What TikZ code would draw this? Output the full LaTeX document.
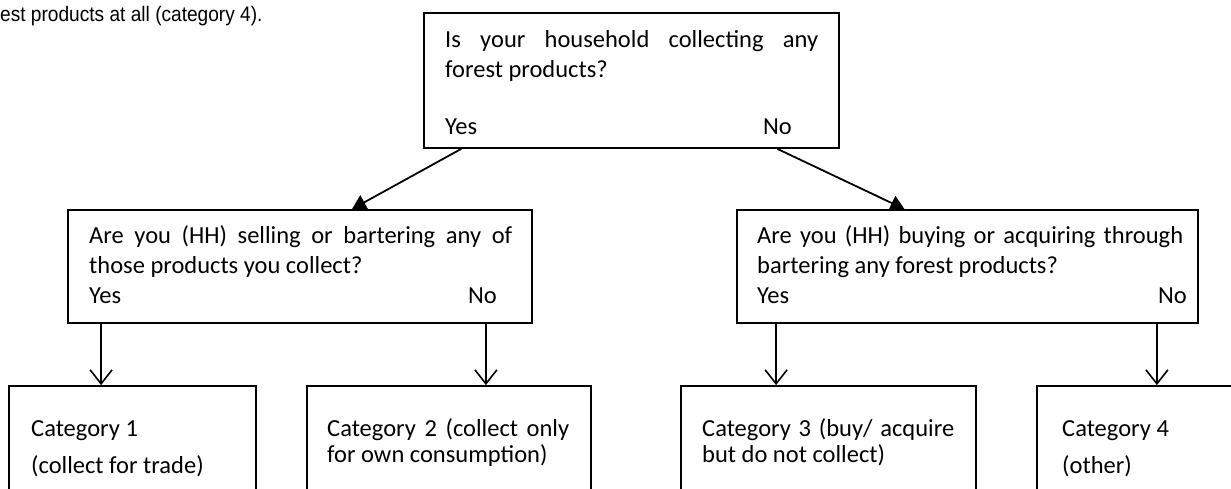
\documentclass[tikz,border=0pt]{standalone}
\usepackage{fontspec}
\setmainfont{Carlito}
\newfontfamily\arialfont[FakeStretch=0.91]{Liberation Sans}
\usetikzlibrary{arrows.meta}
\tikzset{
  box/.style={draw, line width=1.8pt, rectangle, inner sep=0pt},
  txt/.style={anchor=base west, inner sep=0pt, font=\fontsize{24.5}{30}\selectfont},
  txtr/.style={txt, anchor=base east},
  diag/.style={line width=1.8pt, -{Triangle[length=14pt,width=16pt]}},
  down/.style={line width=1.6pt, -{Straight Barb[length=14pt,width=22pt,line width=1.6pt]}},
}
\begin{document}
\begin{tikzpicture}[x=1pt,y=-1pt]
\useasboundingbox (0,0) rectangle (1231,488);
\clip (0,0) rectangle (1231,488);
% note text
\node[anchor=base west, inner sep=0pt, font=\arialfont\fontsize{21}{25}\selectfont] (note) at (0,21) {est products at all (category 4).};
% boxes
\node[box, minimum width=415pt, minimum height=135pt] (q1) at (631.5,80.5) {};
\node[box, minimum width=464pt, minimum height=113pt] (q2) at (300,266.5) {};
\node[box, minimum width=461pt, minimum height=113pt] (q3) at (967.5,266.5) {};
\node[box, minimum width=247pt, minimum height=134pt] (c1) at (132.5,453) {};
\node[box, minimum width=284pt, minimum height=134pt] (c2) at (449,453) {};
\node[box, minimum width=295pt, minimum height=134pt] (c3) at (828.5,453) {};
\node[box, minimum width=213pt, minimum height=134pt] (c4) at (1143.5,453) {};
% top box text
\node[txt] (q1a) at (445,47) {\makebox[373pt][s]{Is your household collecting any}};
\node[txt] (q1b) at (445,77) {forest products?};
\node[txt] (q1y) at (445,134) {Yes};
\node[txtr] (q1n) at (792,134) {No};
% mid-left text
\node[txt] (q2a) at (89,243) {\makebox[423pt][s]{Are you (HH) selling or bartering any of}};
\node[txt] (q2b) at (89,273) {those products you collect?};
\node[txt] (q2y) at (89,303) {Yes};
\node[txtr] (q2n) at (497,303) {No};
% mid-right text
\node[txt] (q3a) at (757,243) {\makebox[426pt][s]{Are you (HH) buying or acquiring through}};
\node[txt] (q3b) at (757,273) {bartering any forest products?};
\node[txt] (q3y) at (757,303) {Yes};
\node[txtr] (q3n) at (1187,303) {No};
% categories
\node[txt] (c1a) at (31,436) {Category 1};
\node[txt] (c1b) at (31,473) {(collect for trade)};
\node[txt] (c2a) at (327,436) {\makebox[242pt][s]{Category 2 (collect only}};
\node[txt] (c2b) at (327,462) {for own consumption)};
\node[txt] (c3a) at (702,436) {\makebox[252pt][s]{Category 3 (buy/ acquire}};
\node[txt] (c3b) at (702,462) {but do not collect)};
\node[txt] (c4a) at (1062,436) {Category 4};
\node[txt] (c4b) at (1062,473) {(other)};
% connectors
\path (q1y |- q1.south) coordinate (s1y);
\path (q1n |- q1.south) coordinate (s1n);
\draw[diag] (s1y) -- ([xshift=52pt]q2.north);
\draw[diag] (s1n) -- ([xshift=-63pt]q3.north);
\path ([xshift=34pt]q2.south west) coordinate (s2y);
\path ([xshift=-47pt]q2.south east) coordinate (s2n);
\path ([xshift=40pt]q3.south west) coordinate (s3y);
\path ([xshift=-42pt]q3.south east) coordinate (s3n);
\draw[down] (s2y) -- (s2y |- c1.north);
\draw[down] (s2n) -- (s2n |- c2.north);
\draw[down] (s3y) -- (s3y |- c3.north);
\draw[down] (s3n) -- (s3n |- c4.north);
\end{tikzpicture}
\end{document}
